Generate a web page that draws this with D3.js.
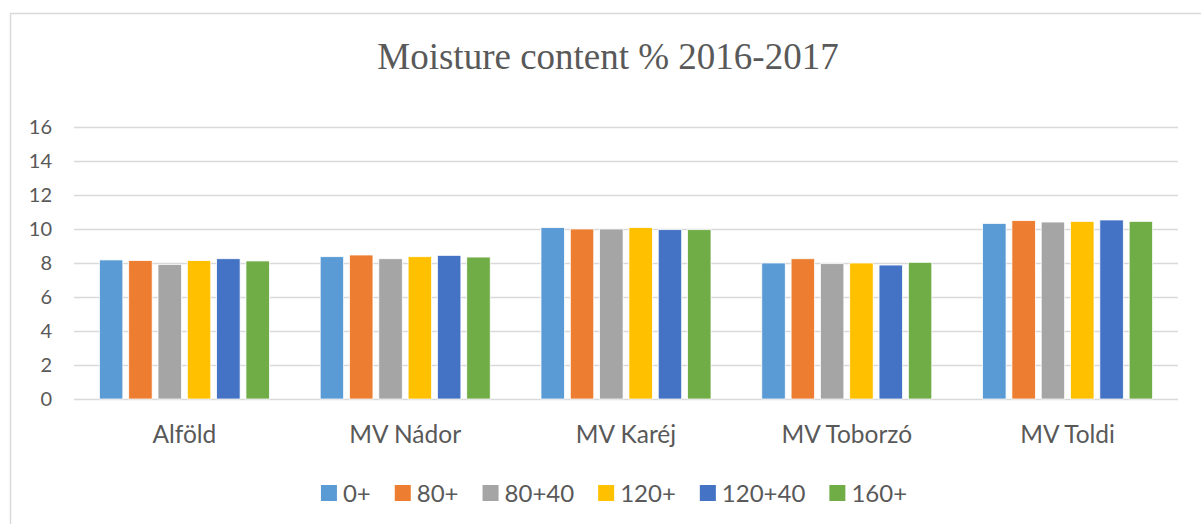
<!DOCTYPE html>
<html lang="en">
  <head>
    <meta charset="UTF-8" />
    <title>Moisture content</title>
    <style>
      body { margin: 0; background: #fff; }
      text { font-family: Lato, "Open Sans", sans-serif; fill: #595959; }
    </style>
  </head>
  <body>
    <svg id="svg" width="1201" height="524"></svg>

    <script src="https://d3js.org/d3.v7.min.js"></script>
    <script>
      const categories = ["Alföld", "MV Nádor", "MV Karéj", "MV Toborzó", "MV Toldi"];
      const seriesNames = ["0+", "80+", "80+40", "120+", "120+40", "160+"];
      const colors = ["#5b9bd5", "#ed7d31", "#a5a5a5", "#ffc000", "#4472c4", "#70ad47"];
      // values per series, one per category
      const v0 = [8.18, 8.37, 10.08, 8.0, 10.33];
      const v80 = [8.14, 8.47, 10.0, 8.25, 10.49];
      const v80_40 = [7.92, 8.25, 10.0, 7.96, 10.41];
      const v120 = [8.14, 8.37, 10.08, 8.0, 10.45];
      const v120_40 = [8.25, 8.45, 9.96, 7.88, 10.53];
      const v160 = [8.12, 8.35, 9.96, 8.04, 10.45];
      const yTicks = [0, 2, 4, 6, 8, 10, 12, 14, 16];

      const allValues = [v0, v80, v80_40, v120, v120_40, v160];
      const data = categories.map((c, i) => ({
        cat: c,
        vals: seriesNames.map((s, j) => ({ s, v: allValues[j][i], color: colors[j] })),
      }));

      const svg = d3.select("#svg");

      // chart area border (only left and top visible in the crop)
      svg.append("path")
        .attr("d", "M10.5,530 V13.5 H1210")
        .attr("fill", "none")
        .attr("stroke", "#d9d9d9")
        .attr("stroke-width", 1.5);

      svg.append("text")
        .attr("x", 608)
        .attr("y", 69)
        .attr("text-anchor", "middle")
        .style("font-family", '"Liberation Serif", "Times New Roman", serif')
        .style("font-size", "37px")
        .text("Moisture content % 2016-2017");

      const plotL = 74, plotR = 1178, plotT = 127, plotB = 399;

      const y = d3.scaleLinear().domain([0, 16]).range([plotB, plotT]);
      const x0 = d3.scaleBand().domain(categories).range([plotL, plotR]).paddingInner(0.23).paddingOuter(0.115);
      const x1 = d3.scaleBand().domain(seriesNames).range([0, x0.bandwidth()]).paddingInner(0.2);

      // gridlines
      svg.append("g")
        .selectAll("line")
        .data(yTicks)
        .join("line")
        .attr("x1", plotL)
        .attr("x2", plotR)
        .attr("y1", (d) => Math.round(y(d)) + 0.5)
        .attr("y2", (d) => Math.round(y(d)) + 0.5)
        .attr("stroke", "#d9d9d9")
        .attr("stroke-width", 1.5);

      // y labels
      svg.append("g")
        .selectAll("text")
        .data(yTicks)
        .join("text")
        .attr("x", 52)
        .attr("y", (d) => y(d))
        .attr("dy", "0.36em")
        .attr("text-anchor", "end")
        .style("font-size", "20px")
        .text((d) => d);

      // bars
      svg.append("g")
        .selectAll("g")
        .data(data)
        .join("g")
        .attr("transform", (d) => `translate(${x0(d.cat)},0)`)
        .selectAll("rect")
        .data((d) => d.vals)
        .join("rect")
        .attr("x", (d) => x1(d.s))
        .attr("width", x1.bandwidth())
        .attr("y", (d) => y(d.v))
        .attr("height", (d) => y(0) - y(d.v))
        .attr("fill", (d) => d.color)
        .attr("stroke", "#fff")
        .attr("stroke-width", 0.75);

      // x labels
      svg.append("g")
        .selectAll("text")
        .data(categories)
        .join("text")
        .attr("x", (d) => x0(d) + x0.bandwidth() / 2)
        .attr("y", 443)
        .attr("text-anchor", "middle")
        .style("font-size", "24.5px")
        .text((d) => d);

      // legend
      const legend = svg.append("g");
      const items = legend.selectAll("g")
        .data(seriesNames)
        .join("g");
      items.append("rect")
        .attr("width", 16)
        .attr("height", 16)
        .attr("y", 485)
        .attr("fill", (d, i) => colors[i]);
      items.append("text")
        .attr("x", 22)
        .attr("y", 502)
        .style("font-size", "24px")
        .text((d) => d);
      let pos = 0;
      items.each(function () {
        const w = d3.select(this).select("text").node().getComputedTextLength();
        d3.select(this).attr("data-x", pos);
        pos += 22 + w + 24;
      });
      const total = pos - 24;
      const start = 614 - total / 2;
      items.attr("transform", function () {
        return `translate(${start + +d3.select(this).attr("data-x")},0)`;
      });
    </script>
  </body>
</html>
